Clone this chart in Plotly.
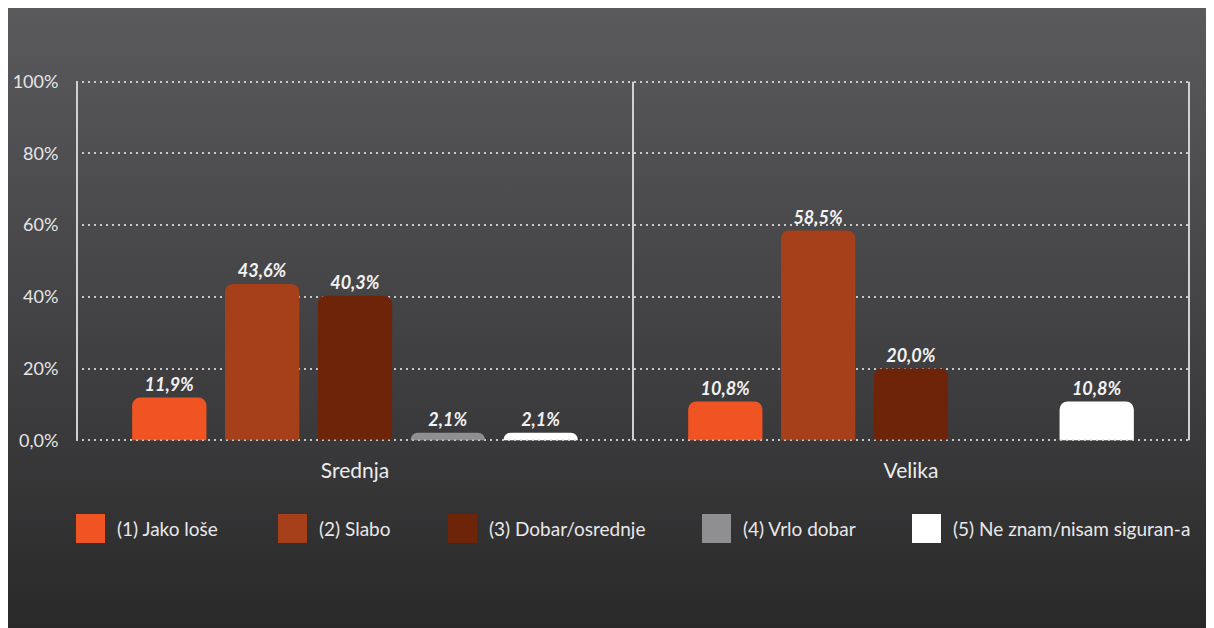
import base64
import plotly.graph_objects as go

# ---- data ----
categories = ["Srednja", "Velika"]
series_names = ["(1) Jako loše", "(2) Slabo", "(3) Dobar/osrednje", "(4) Vrlo dobar", "(5) Ne znam/nisam siguran-a"]
values_jako_lose = [11.9, 10.8]
values_slabo = [43.6, 58.5]
values_dobar = [40.3, 20.0]
values_vrlo_dobar = [2.1, None]
values_ne_znam = [2.1, 10.8]
series_values = [values_jako_lose, values_slabo, values_dobar, values_vrlo_dobar, values_ne_znam]
series_colors = ["#f05423", "#a6401a", "#6e2409", "#8f8f92", "#ffffff"]
y_tickvals = [0, 20, 40, 60, 80, 100]
y_ticktext = ["0,0%", "20%", "40%", "60%", "80%", "100%"]

FONT = "Lato"
W, H = 1206, 620
OFF = 8  # page offset of the figure in the screenshot
ML, MR, MT, MB = 68, 24, 72, 186
PW, PH = W - ML - MR, H - MT - MB
Y0, Y1 = -0.5, 100.5


def px_x(sx):
    return (sx - OFF - ML) / PW


def px_y(sy):
    return (H - MB - (sy - OFF)) / PH


fig = go.Figure()
for name, vals, col in zip(series_names, series_values, series_colors):
    fig.add_trace(go.Bar(
        x=categories, y=vals, name=name,
        marker=dict(color=col, line=dict(width=0), cornerradius=8),
        texttemplate="%{y:.1f}%", textposition="outside",
        textfont=dict(family=FONT, size=18, color="#f2f2f2", weight="bold", style="italic"),
        cliponaxis=False, showlegend=False,
    ))

# background gradient as an SVG image covering the whole figure
svg = ("<svg xmlns='http://www.w3.org/2000/svg' width='100' height='100' viewBox='0 0 100 100' "
       "preserveAspectRatio='none'><defs><linearGradient id='g' x1='0' y1='0' x2='0' y2='1'>"
       "<stop offset='0' stop-color='#5a5a5c'/><stop offset='0.5' stop-color='#434345'/>"
       "<stop offset='1' stop-color='#2a292a'/></linearGradient></defs>"
       "<rect width='100' height='100' fill='url(#g)'/></svg>")
src = "data:image/svg+xml;base64," + base64.b64encode(svg.encode()).decode()
fig.add_layout_image(dict(
    source=src, xref="paper", yref="paper",
    x=-ML / PW, y=1 + MT / PH, sizex=W / PW, sizey=H / PH,
    xanchor="left", yanchor="top", sizing="stretch", layer="below",
))

shapes = []
# category separator lines
for xv in [-0.5, 0.5, 1.5]:
    shapes.append(dict(type="line", xref="x", yref="y", x0=xv, x1=xv, y0=0, y1=100,
                       line=dict(color="#d0d0d0", width=2), layer="above"))
# dotted baseline drawn over the bars
shapes.append(dict(type="line", xref="paper", yref="y", x0=0, x1=1, y0=0, y1=0,
                   line=dict(color="rgba(200,200,200,0.9)", width=1.5, dash="2px,4px"),
                   layer="above"))

# manual legend (screen pixel positions from the reference)
box_x = [76, 278, 448, 702, 912]
annotations = []
for bx, name, col in zip(box_x, series_names, series_colors):
    shapes.append(dict(type="rect", xref="paper", yref="paper",
                       x0=px_x(bx), x1=px_x(bx + 29), y0=px_y(543), y1=px_y(514),
                       fillcolor=col, line=dict(width=0)))
    annotations.append(dict(xref="paper", yref="paper", x=px_x(bx + 39), y=px_y(528),
                            text=name, showarrow=False, xanchor="left", yanchor="middle",
                            font=dict(family=FONT, size=19, color="#e8e8e8")))

fig.update_layout(
    width=W, height=H,
    margin=dict(l=ML, r=MR, t=MT, b=MB, autoexpand=False),
    paper_bgcolor="#3f3f41", plot_bgcolor="rgba(0,0,0,0)",
    barmode="group", bargap=0.165, bargroupgap=0.2,
    separators=", ",
    shapes=shapes, annotations=annotations,
    showlegend=False,
    font=dict(family=FONT, color="#e8e8e8"),
)
fig.update_xaxes(
    type="category", showgrid=False, zeroline=False, showline=False, automargin=False,
    ticks="outside", ticklen=10, tickcolor="rgba(0,0,0,0)",
    tickfont=dict(family=FONT, size=21, color="#ececec"),
)
fig.update_yaxes(
    range=[Y0, Y1], tickvals=y_tickvals, ticktext=y_ticktext, automargin=False,
    showgrid=True, gridcolor="rgba(225,225,225,0.85)", gridwidth=1.5, griddash="2px,4px",
    zeroline=False, showline=False,
    ticks="outside", ticklen=13, tickcolor="rgba(0,0,0,0)",
    tickfont=dict(family=FONT, size=18, color="#e6e6e6"),
)

fig.write_html("out.html", post_script="document.body.style.overflow='hidden';")
